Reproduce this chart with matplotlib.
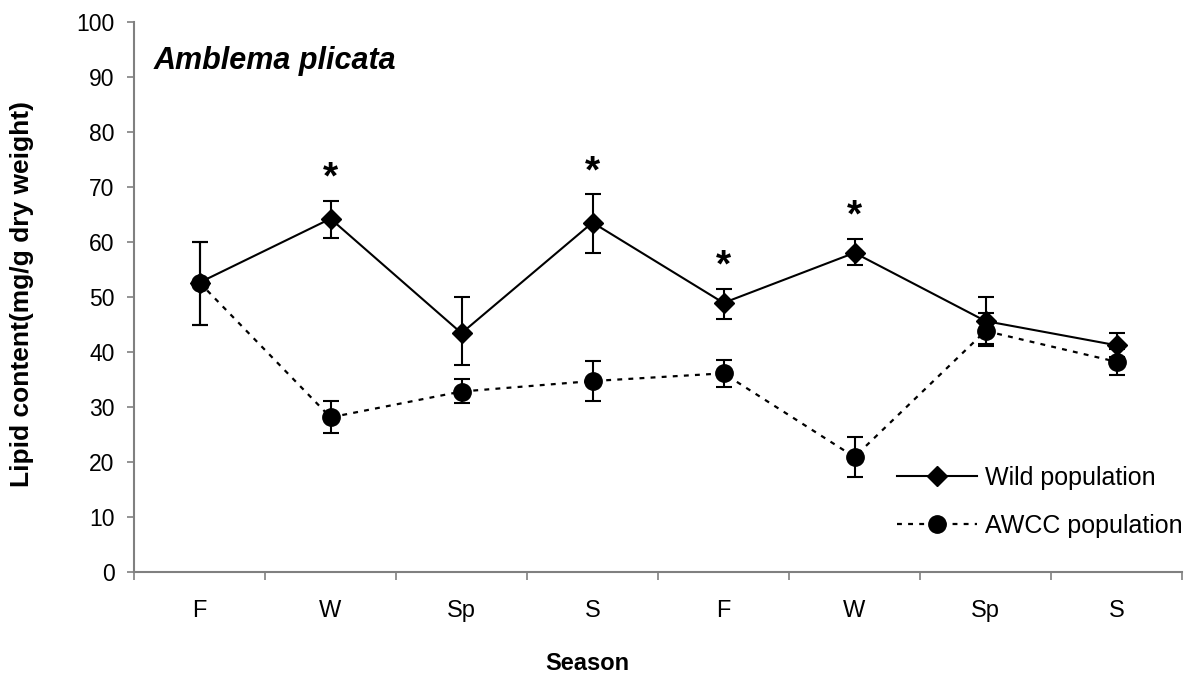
import numpy as np
import matplotlib
matplotlib.use("Agg")
import matplotlib.pyplot as plt

plt.rcParams['font.family'] = ['Liberation Sans', 'DejaVu Sans']

seasons = ["F", "W", "Sp", "S", "F", "W", "Sp", "S"]

# mean lipid content (mg/g dry weight) and error bar limits
wild_mean = [52.6, 64.2, 43.4, 63.5, 48.9, 58.0, 45.6, 41.2]
wild_lo = [44.8, 60.7, 37.6, 58.0, 46.0, 55.8, 41.4, 39.0]
wild_hi = [60.0, 67.5, 49.9, 68.6, 51.4, 60.6, 49.9, 43.4]

awcc_mean = [52.6, 28.1, 32.8, 34.7, 36.1, 20.9, 43.8, 38.2]
awcc_lo = [44.8, 25.3, 30.8, 31.0, 33.7, 17.2, 41.0, 35.8]
awcc_hi = [60.0, 31.0, 35.0, 38.3, 38.6, 24.5, 47.0, 40.6]

# seasons where the two populations differ significantly
signif = [1, 3, 4, 5]

x = np.arange(len(seasons))

W, H = 1200, 677
fig = plt.figure(figsize=(12, 6.77), dpi=100)
ax = fig.add_axes([134 / W, 1 - 572 / H, (1182 - 134) / W, (572 - 21.7) / H])

def yerr(mean, lo, hi):
    m = np.array(mean)
    return [m - np.array(lo), np.array(hi) - m]

ax.errorbar(x, wild_mean, yerr=yerr(wild_mean, wild_lo, wild_hi), fmt='none',
            ecolor='black', elinewidth=1.5, capsize=5.5, capthick=1.5, zorder=2)
ax.errorbar(x, awcc_mean, yerr=yerr(awcc_mean, awcc_lo, awcc_hi), fmt='none',
            ecolor='black', elinewidth=1.5, capsize=5.5, capthick=1.5, zorder=2)

ax.plot(x, wild_mean, color='black', lw=1.5, marker='D', ms=10.5,
        label='Wild population', zorder=3)
ax.plot(x, awcc_mean, color='black', lw=1.6, ls=(0, (2.2, 2.8)), marker='o', ms=12.5,
        label='AWCC population', zorder=4)

for i in signif:
    ax.annotate('*', (x[i], wild_hi[i]), xytext=(0, 3), textcoords='offset points',
                ha='center', va='bottom', fontsize=28, fontweight='bold')

ax.set_xlim(-0.5, len(seasons) - 0.5)
ax.set_ylim(0, 100)
ax.set_yticks(np.arange(0, 101, 10))
ax.set_xticks(np.arange(-0.5, len(seasons), 1.0))
ax.set_xticklabels([])
ax.set_xticks(x, minor=True)
ax.set_xticklabels(seasons, minor=True)
ax.tick_params(axis='x', which='minor', length=0, pad=20, labelsize=17)
ax.tick_params(axis='x', which='major', length=6, width=1.2, color='#808080', direction='out')
ax.tick_params(axis='y', length=5, width=1.2, color='#808080', direction='out',
               labelsize=16.5, pad=9)

for side in ['top', 'right']:
    ax.spines[side].set_visible(False)
for side in ['left', 'bottom']:
    ax.spines[side].set_color('#808080')
    ax.spines[side].set_linewidth(1.5)

fig.text(154 / W, 1 - 68.5 / H, 'Amblema plicata', fontsize=22,
         fontweight='bold', fontstyle='italic', va='baseline', ha='left')

fig.text(22 / W, 1 - 294 / H, 'Lipid content(mg/g dry weight)', fontsize=19,
         fontweight='bold', rotation=90, ha='center', va='center')
fig.text(587 / W, 1 - 663 / H, 'Season', fontsize=17, fontweight='bold',
         ha='center', va='center')

ax.legend(loc='center left', bbox_to_anchor=(897 / W, 1 - 502 / H),
          bbox_transform=fig.transFigure, frameon=False, fontsize=18,
          handlelength=3.2, handletextpad=0.32, labelspacing=0.95,
          borderaxespad=0, borderpad=0)

fig.savefig('out.png', dpi=100)
